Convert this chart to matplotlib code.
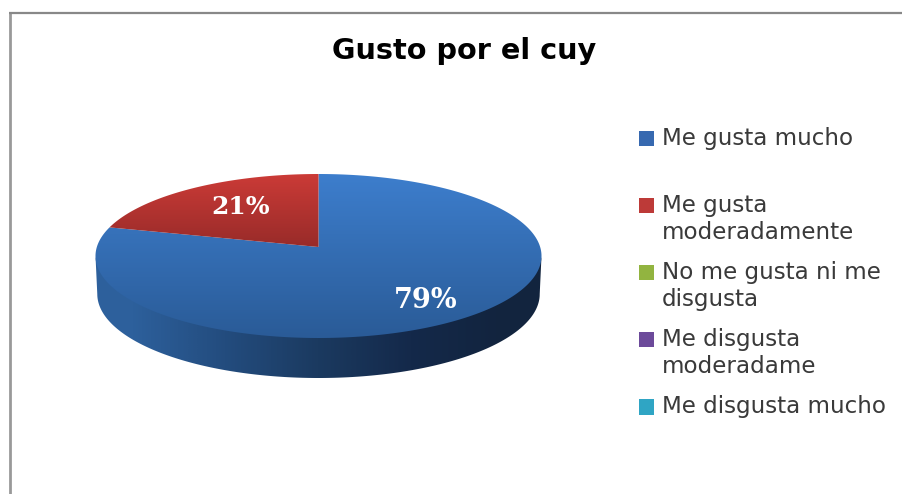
import numpy as np
import matplotlib
matplotlib.use("Agg")
import matplotlib.pyplot as plt
from matplotlib.lines import Line2D
from matplotlib.path import Path
from matplotlib.patches import PathPatch
from matplotlib.colors import LinearSegmentedColormap as LSC

title = "Gusto por el cuy"
categories = ["Me gusta mucho", "Me gusta\nmoderadamente", "No me gusta ni me\ndisgusta",
              "Me disgusta\nmoderadame", "Me disgusta mucho"]
values = [79, 21, 0, 0, 0]
colors = ["#3769b0", "#bd3a38", "#92b440", "#6c4a9a", "#2fa5c4"]

W, H = 903, 494
CX, CY, A, B = 318.5, 256.0, 223.0, 82.0
fig = plt.figure(figsize=(W / 100, H / 100), dpi=100, facecolor="white")
ax = fig.add_axes([0, 0, 1, 1])

wedges, _, autotexts = ax.pie(values, colors=colors, startangle=90, counterclock=False,
                              autopct=lambda p: f"{p:.0f}%" if p > 0.5 else "",
                              pctdistance=0.6)
ax.set_aspect("auto")
ax.set_xlim(-CX / A, (W - CX) / A)
ax.set_ylim((CY - H) / B, CY / B)
ax.axis("off")


def px(x, y):
    return (x - CX) / A, (CY - y) / B


# Legend, built from the pie wedges
FS = 16.6
leg = ax.legend(wedges,
                [c if "\n" in c else c + "\n " for c in categories],
                loc="upper left", bbox_to_anchor=(639 / W, 1 - 126.5 / H),
                bbox_transform=fig.transFigure, frameon=False,
                prop={"family": "DejaVu Sans", "size": FS},
                labelcolor="#3a3a3a", handlelength=0.65, handleheight=0.65,
                handletextpad=0.35, labelspacing=0.72, borderpad=0, borderaxespad=0)
for h in leg.get_patches():
    h.set_y(h.get_y() + 10.2)
for t in leg.get_texts():
    t.set_linespacing(1.25)

# Perspective map of the unit disc: moves the centre to the apex, keeps the rim
t_ = 9 / B


def persp(v):
    x, y = v[:, 0], v[:, 1]
    d = 1 + t_ * y
    return np.column_stack([x * np.sqrt(1 - t_ ** 2) / d, (y + t_) / d])


def vgrad(c_top, c_bot, y_top, y_bot, clip):
    cm = LSC.from_list("g", [c_top, c_bot])
    x0, _ = px(0, 0)
    x1, _ = px(W, 0)
    _, yt = px(0, y_top)
    _, yb = px(0, y_bot)
    im = ax.imshow(np.linspace(0, 1, 256)[:, None], cmap=cm, aspect="auto",
                   extent=(x0, x1, yb, yt), origin="upper", zorder=3, interpolation="bilinear")
    im.set_clip_path(clip)


# Side wall with horizontal gradient
th = np.linspace(np.pi, 2 * np.pi, 240)
xs, ys = np.cos(th), np.sin(th)
DEPTH, BS = 38 / B, 84 / 82
wall = np.vstack([np.column_stack([xs, ys * 0.5]),
                  np.column_stack([xs[::-1] * 0.992, ys[::-1] * BS - DEPTH])])
wall_patch = PathPatch(Path(np.vstack([wall, wall[:1]]), closed=True), fc="none", ec="none",
                       transform=ax.transData)
ax.add_patch(wall_patch)
wall_cm = LSC.from_list("w", ["#2d609c", "#234c7e", "#1b3a60", "#14294a", "#12243e"])
wx0, _ = px(95, 0)
wx1, _ = px(542, 0)
wim = ax.imshow(np.array([[0, .2, .4, .6, .8, 1.0]]), cmap=wall_cm, aspect="auto",
                extent=(wx0, wx1, px(0, 390)[1], px(0, 250)[1]), zorder=2,
                interpolation="bilinear")
wim.set_clip_path(wall_patch)

# Top face with vertical gradients, outlines taken from the wedge angles
faces = [(wedges[0], "#3d7ecd", "#2a5b97", 174, 338),
         (wedges[1], "#cc3b37", "#982b29", 174, 247)]
for w, ct, cb, yt, yb in faces:
    ang = np.radians(np.linspace(w.theta1, w.theta2, 400))
    rim = np.column_stack([np.cos(ang), np.sin(ang)])
    poly = np.vstack([[[0.0, 0.0]], rim, [[0.0, 0.0]]])
    pp = PathPatch(Path(persp(poly), closed=True), fc="none", ec="none", transform=ax.transData)
    ax.add_patch(pp)
    vgrad(ct, cb, yt, yb, pp)
    w.set_visible(False)

ax.set_xlim(-CX / A, (W - CX) / A)
ax.set_ylim((CY - H) / B, CY / B)

# Percent labels
for t, (lx, ly, fs) in zip(autotexts[:2], [(426, 300, 19.5), (241, 207, 18)]):
    t.set_position(px(lx, ly))
    t.set(color="white", family="DejaVu Serif", fontweight="bold", fontsize=fs,
          ha="center", va="center", zorder=6)

fig.text(464.5 / W, 1 - 51 / H, title, ha="center", va="center", fontsize=20.7,
         fontweight="bold", family="DejaVu Sans", color="black")

# Chart frame (top and left edges only)
fig.add_artist(Line2D([10.5 / W, 10.5 / W], [0, 1 - 12 / H], color="#999999", lw=2.0,
                      solid_capstyle="butt", transform=fig.transFigure))
fig.add_artist(Line2D([9.5 / W, 1], [1 - 13 / H, 1 - 13 / H], color="#888888", lw=1.6,
                      solid_capstyle="butt", transform=fig.transFigure))

fig.savefig("out.png", dpi=100)
